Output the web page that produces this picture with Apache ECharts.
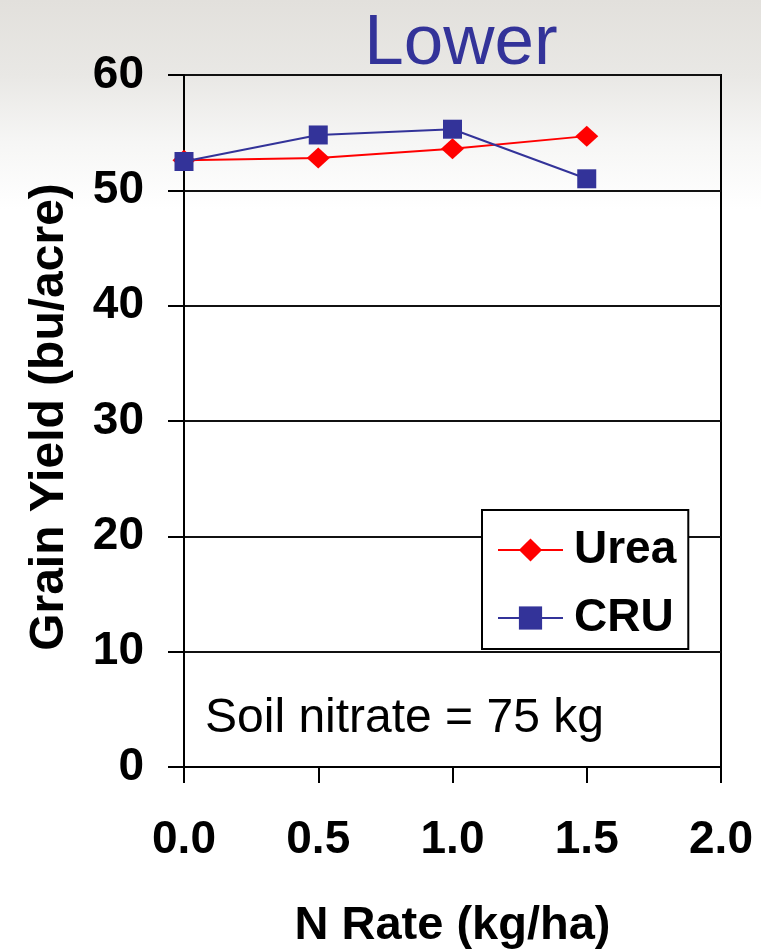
<!DOCTYPE html>
<html>
<head>
<meta charset="utf-8">
<style>
  html, body { margin: 0; padding: 0; background: #fff; }
  #chart { width: 761px; height: 951px; }
</style>
<script src="https://cdn.jsdelivr.net/npm/echarts@6/dist/echarts.min.js"></script>
</head>
<body>
<div id="chart"></div>
<script>
// ---- Data ----
const nRate = [0.0, 0.5, 1.0, 1.5];
const ureaYield = [52.6, 52.8, 53.6, 54.7];
const cruYield = [52.5, 54.8, 55.3, 51.0];
const xTicks = ['0.0', '0.5', '1.0', '1.5', '2.0'];
const yTicks = [0, 10, 20, 30, 40, 50, 60];
const seriesNames = ['Urea', 'CRU'];
const titleText = 'Lower';
const noteText = 'Soil nitrate = 75 kg';

const FONT = '"Liberation Sans", Arial, Helvetica, sans-serif';

const chart = echarts.init(document.getElementById('chart'), null, { renderer: 'canvas' });

const option = {
  animation: false,
  backgroundColor: {
    type: 'linear', x: 0, y: 0, x2: 0, y2: 1,
    colorStops: [
      { offset: 0, color: '#e2e0dc' },
      { offset: 0.08, color: '#e9e8e5' },
      { offset: 0.15, color: '#f6f6f5' },
      { offset: 0.22, color: '#ffffff' },
      { offset: 1, color: '#ffffff' }
    ]
  },
  title: {
    text: titleText,
    left: 456,
    textAlign: 'center',
    top: 4,
    textStyle: { color: '#333399', fontFamily: FONT, fontSize: 71, fontWeight: 'normal' }
  },
  grid: {
    left: 184, top: 75, right: 40, bottom: 184,
    outerBoundsMode: 'none',
    containLabel: false,
    show: true, borderColor: '#000', borderWidth: 2, backgroundColor: 'transparent'
  },
  legend: {
    orient: 'vertical',
    left: 482, top: 510,
    backgroundColor: '#fff',
    borderColor: '#000', borderWidth: 2, borderRadius: 0,
    padding: [17, 12, 8, 15],
    itemWidth: 65, itemHeight: 29, itemGap: 22,
    data: seriesNames,
    textStyle: { fontFamily: FONT, fontSize: 46, fontWeight: 'bold', color: '#000', padding: [0, 0, 0, 6] }
  },
  xAxis: {
    type: 'value', min: 0, max: 2, interval: 0.5,
    name: 'N Rate (kg/ha)', nameLocation: 'middle', nameGap: 136,
    nameTextStyle: { fontFamily: FONT, fontSize: 47, fontWeight: 'bold', color: '#000' },
    axisLine: { show: true, lineStyle: { color: '#000', width: 2 } },
    axisTick: { show: true, inside: false, length: 16, lineStyle: { color: '#000', width: 2 } },
    axisLabel: {
      margin: 50, fontFamily: FONT, fontSize: 46, fontWeight: 'bold', color: '#000',
      formatter: function (v) { return xTicks[Math.round(v / 0.5)]; }
    },
    splitLine: { show: false }
  },
  yAxis: {
    type: 'value', min: 0, max: 60, interval: 10,
    name: 'Grain Yield (bu/acre)', nameLocation: 'middle', nameGap: 110, nameRotate: 90,
    nameTextStyle: { fontFamily: FONT, fontSize: 48, fontWeight: 'bold', color: '#000', padding: [0, 0, 0, 8] },
    axisLine: { show: true, lineStyle: { color: '#000', width: 2 } },
    axisTick: { show: true, inside: false, length: 16, lineStyle: { color: '#000', width: 2 } },
    axisLabel: {
      margin: 40, fontFamily: FONT, fontSize: 46, fontWeight: 'bold', color: '#000',
      formatter: function (v) { return yTicks.indexOf(v) >= 0 ? String(v) : ''; }
    },
    splitLine: { show: true, lineStyle: { color: '#111', width: 2 } }
  },
  graphic: [{
    type: 'text',
    left: 205, top: 695,
    style: { text: noteText, fontFamily: FONT, fontSize: 48, fontWeight: 'normal', fill: '#000' }
  }],
  series: [
    {
      name: seriesNames[0], type: 'line',
      data: nRate.map((x, i) => [x, ureaYield[i]]),
      symbol: 'diamond', symbolSize: [23, 21],
      lineStyle: { color: '#ff0000', width: 2 },
      itemStyle: { color: '#ff0000' },
      z: 2
    },
    {
      name: seriesNames[1], type: 'line',
      data: nRate.map((x, i) => [x, cruYield[i]]),
      symbol: 'rect', symbolSize: 19,
      lineStyle: { color: '#333399', width: 2 },
      itemStyle: { color: '#333399' },
      z: 3
    }
  ]
};

chart.setOption(option);
</script>
</body>
</html>
